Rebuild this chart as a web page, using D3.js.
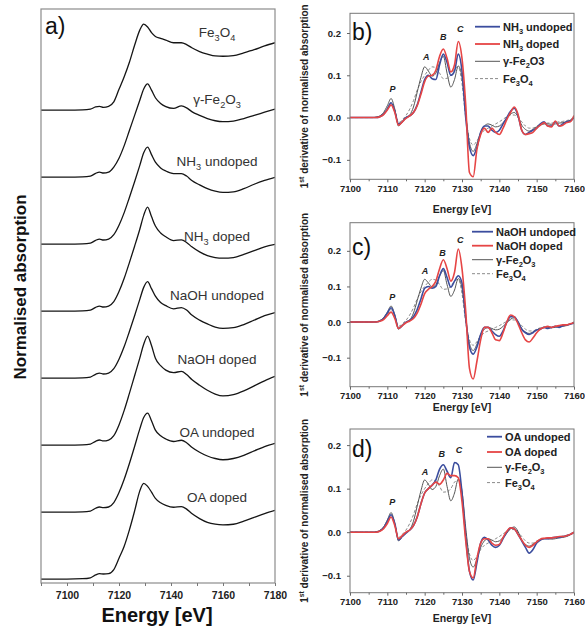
<!DOCTYPE html>
<html><head><meta charset="utf-8">
<script src="https://cdn.jsdelivr.net/npm/d3@7"></script>
<style>body{margin:0;background:#fff} svg{display:block;font-family:"Liberation Sans",Arial,sans-serif}</style>
</head><body><svg id="c" width="585" height="626"></svg>
<script>
// ---------- DATA: panel a (XANES) ----------
const xanesE = [7090,7100,7106,7109,7111,7112.5,7114,7116,7118,7120,7122,7124,7126,7128,7129.5,7131,7132.5,7134,7136,7138,7141,7144,7146,7148,7151,7154,7157,7160,7164,7168,7172,7176,7180];
const xaFe3O4 = [0,0,0.003,0.015,0.05,0.06,0.045,0.06,0.13,0.33,0.53,0.76,1.03,1.27,1.365,1.32,1.23,1.17,1.14,1.11,1.07,1.07,1.04,0.99,0.93,0.89,0.86,0.855,0.865,0.91,0.96,1.02,1.07];
const xaGamma  = [0,0,0.003,0.015,0.06,0.08,0.065,0.08,0.16,0.3,0.5,0.74,0.98,1.22,1.4,1.48,1.38,1.26,1.17,1.12,1.09,1.13,1.1,1.04,0.98,0.93,0.895,0.88,0.89,0.93,0.98,1.03,1.08];
const xaNH3u   = [0,0,0.003,0.015,0.06,0.08,0.065,0.08,0.15,0.3,0.5,0.74,0.99,1.25,1.45,1.54,1.42,1.3,1.21,1.16,1.12,1.12,1.08,1.01,0.94,0.88,0.84,0.82,0.83,0.88,0.95,1.01,1.06];
const xaNH3d   = [0,0,0.003,0.015,0.06,0.08,0.065,0.08,0.15,0.31,0.52,0.77,1.03,1.3,1.52,1.65,1.5,1.35,1.24,1.18,1.12,1.13,1.09,1.02,0.94,0.88,0.85,0.84,0.85,0.9,0.96,1.02,1.06];
const xaNaOHu  = [0,0,0.003,0.015,0.06,0.08,0.065,0.08,0.15,0.3,0.5,0.74,0.99,1.25,1.44,1.53,1.42,1.3,1.2,1.15,1.1,1.12,1.08,1.0,0.92,0.86,0.81,0.79,0.8,0.85,0.92,0.99,1.04];
const xaNaOHd  = [0,0,0.003,0.015,0.06,0.08,0.065,0.08,0.15,0.32,0.55,0.82,1.1,1.38,1.6,1.73,1.58,1.38,1.26,1.19,1.15,1.17,1.12,1.04,0.95,0.87,0.81,0.78,0.8,0.86,0.94,1.02,1.09];
const xaOAu    = [0,0,0.003,0.015,0.06,0.08,0.07,0.08,0.15,0.31,0.52,0.77,1.04,1.32,1.5,1.57,1.45,1.3,1.21,1.16,1.12,1.14,1.1,1.03,0.95,0.89,0.85,0.83,0.85,0.9,0.97,1.04,1.09];
const xaOAd    = [0,0,0.005,0.02,0.065,0.085,0.08,0.085,0.15,0.33,0.52,0.78,1.08,1.4,1.52,1.47,1.38,1.28,1.21,1.17,1.14,1.15,1.11,1.04,0.96,0.9,0.87,0.86,0.87,0.92,0.98,1.04,1.09];
const xanesLabels = [
  [["Fe"],["3",1],["O"],["4",1]],
  [["γ-Fe"],["2",1],["O"],["3",1]],
  [["NH"],["3",1],[" undoped"]],
  [["NH"],["3",1],[" doped"]],
  [["NaOH undoped"]],
  [["NaOH doped"]],
  [["OA undoped"]],
  [["OA doped"]]
];
const xanesSeries = [xaFe3O4, xaGamma, xaNH3u, xaNH3d, xaNaOHu, xaNaOHd, xaOAu, xaOAd];
const xanesTicks = [7090,7100,7110,7120,7130,7140,7150,7160,7170,7180];
const xanesTickLabels = [7100,7120,7140,7160,7180];

// ---------- DATA: derivative panels ----------
const dE = [7100,7101,7102,7103,7104,7105,7106,7107,7108,7109,7110,7111,7112,7113,7114,7115,7116,7117,7118,7119,7120,7121,7122,7123,7124,7125,7126,7127,7128,7129,7130,7131,7132,7133,7134,7135,7136,7137,7138,7139,7140,7141,7142,7143,7144,7145,7146,7147,7148,7149,7150,7151,7152,7153,7154,7155,7156,7157,7158,7159,7160];
const dFe3O4 = [0,0,0,0,0,0,0, 0.001,0.004,0.01,0.022,0.035,0.018,-0.012,-0.005,0.005, 0.02,0.04,0.065,0.085,0.1,0.112,0.12,0.118,0.105,0.092, 0.093,0.1,0.115,0.12,0.08,0.0,-0.05,-0.065,-0.055,-0.04, -0.03,-0.025,-0.02,-0.015,-0.01,-0.004,0.002,0.006,0.006,0.0, -0.01,-0.02,-0.025,-0.025,-0.02,-0.016,-0.014,-0.013,-0.013,-0.012, -0.01,-0.009,-0.007,-0.005,0.0];
const dGamma = [0,0,0,0,0,0,0, 0.001,0.004,0.012,0.028,0.045,0.02,-0.02,-0.01,0.0, 0.006,0.025,0.06,0.095,0.12,0.11,0.098,0.105,0.13,0.145, 0.105,0.072,0.09,0.122,0.095,0.01,-0.06,-0.08,-0.062,-0.035, -0.02,-0.015,-0.018,-0.022,-0.02,-0.012,-0.002,0.008,0.012,0.002, -0.018,-0.028,-0.032,-0.028,-0.022,-0.018,-0.015,-0.015,-0.016,-0.015, -0.013,-0.012,-0.01,-0.006,0.0];
const dNH3u = [0,0,0,0,0,0,0, 0.0,0.002,0.008,0.02,0.035,0.015,-0.015,-0.01,0.0, 0.004,0.012,0.03,0.06,0.09,0.1,0.092,0.09,0.125,0.15, 0.13,0.1,0.11,0.15,0.11,0.0,-0.07,-0.09,-0.07,-0.035, -0.02,-0.02,-0.03,-0.035,-0.03,-0.015,0.0,0.015,0.022,0.005, -0.03,-0.04,-0.035,-0.03,-0.025,-0.015,-0.01,-0.02,-0.02,-0.01, -0.02,-0.015,-0.01,-0.008,0.0];
const dNH3d = [0,0,0,0,0,0,0, 0.0,0.002,0.007,0.018,0.03,0.012,-0.018,-0.01,-0.002, 0.004,0.012,0.028,0.055,0.085,0.098,0.1,0.112,0.145,0.162, 0.14,0.108,0.125,0.18,0.14,0.03,-0.13,-0.14,-0.075,-0.04, -0.025,-0.035,-0.025,-0.035,-0.04,-0.025,-0.005,0.012,0.025,0.008, -0.03,-0.04,-0.038,-0.035,-0.025,-0.018,-0.012,-0.02,-0.022,-0.008, -0.02,-0.018,-0.012,-0.01,0.005];
const dNaOHu = [0,0,0,0,0,0,0, 0.0,0.003,0.01,0.025,0.04,0.018,-0.018,-0.01,0.0, 0.005,0.015,0.035,0.065,0.095,0.1,0.095,0.1,0.13,0.15, 0.125,0.098,0.115,0.13,0.11,0.01,-0.07,-0.09,-0.07,-0.035, -0.015,-0.015,-0.025,-0.035,-0.04,-0.025,0.0,0.015,0.015,0.0, -0.02,-0.03,-0.035,-0.03,-0.022,-0.02,-0.015,-0.018,-0.015,-0.012, -0.015,-0.01,-0.008,-0.006,-0.003];
const dNaOHd = [0,0,0,0,0,0,0, 0.0,0.002,0.007,0.018,0.028,0.01,-0.018,-0.01,-0.002, 0.003,0.01,0.025,0.05,0.08,0.092,0.1,0.115,0.15,0.175, 0.15,0.115,0.14,0.205,0.15,0.03,-0.13,-0.16,-0.11,-0.05, -0.015,-0.015,-0.03,-0.05,-0.052,-0.03,0.0,0.02,0.015,-0.005, -0.03,-0.05,-0.056,-0.045,-0.03,-0.02,-0.015,-0.012,-0.015,-0.012, -0.01,-0.008,-0.008,-0.005,-0.002];
const dOAu = [0,0,0,0,0,0,0, 0.0,0.003,0.01,0.025,0.04,0.02,-0.018,-0.01,-0.002, 0.005,0.015,0.035,0.065,0.09,0.1,0.108,0.12,0.145,0.155, 0.14,0.125,0.16,0.155,0.09,-0.01,-0.09,-0.11,-0.07,-0.025, -0.012,-0.018,-0.03,-0.035,-0.03,-0.015,0.0,0.01,0.008,-0.005, -0.02,-0.035,-0.048,-0.04,-0.025,-0.018,-0.015,-0.015,-0.013,-0.012, -0.012,-0.01,-0.008,-0.005,0.0];
const dOAd = [0,0,0,0,0,0,0, 0.0,0.002,0.008,0.02,0.035,0.015,-0.015,-0.008,0.0, 0.005,0.015,0.035,0.065,0.09,0.1,0.108,0.115,0.11,0.12, 0.135,0.13,0.13,0.125,0.07,-0.02,-0.09,-0.105,-0.06,-0.025, -0.015,-0.015,-0.025,-0.03,-0.028,-0.012,0.002,0.01,0.008,-0.005, -0.018,-0.03,-0.035,-0.03,-0.022,-0.016,-0.014,-0.013,-0.013,-0.012, -0.01,-0.01,-0.008,-0.005,0.0];
const derivXTicks = [7100,7110,7120,7130,7140,7150,7160];
const derivXMinor = [7105,7115,7125,7135,7145,7155];
const derivYTicks = [-0.1,0.0,0.1,0.2];
const peakNames = ["P","A","B","C"];

// ---------- helpers ----------
const svg = d3.select("#c");
function rich(t, segs, fs){
  let pending = 0;
  segs.forEach(s=>{
    const ts = t.append("tspan").text(s[0]);
    let dy = pending;
    if(s[1]===1){ ts.attr("font-size", fs*0.68); dy += fs*0.28; pending = -fs*0.28; }
    else if(s[1]===2){ ts.attr("font-size", fs*0.68); dy += -fs*0.38; pending = fs*0.38; }
    else pending = 0;
    if(dy) ts.attr("dy", dy);
  });
  return t;
}

// ---------- panel a ----------
(function(){
  const L=41,R=275,T=9,B=583;
  const x = d3.scaleLinear().domain([7090,7180]).range([L,R]);
  const y = d3.scaleLinear().domain([-0.063,9.05]).range([B,T]);
  const step = 1.0635;
  const labelLift = [1.16,1.16,1.24,1.11,1.24,1.29,1.19,1.22];
  svg.append("clipPath").attr("id","clipA").append("rect").attr("x",L).attr("y",T).attr("width",R-L).attr("height",B-T);
  const g = svg.append("g").attr("clip-path","url(#clipA)");
  const n = xanesSeries.length;
  xanesSeries.forEach((s,k)=>{
    const off = (n-1-k)*step;
    const line = d3.line().x((d,i)=>x(xanesE[i])).y(d=>y(d+off)).curve(d3.curveMonotoneX);
    g.append("path").attr("d", line(s)).attr("fill","none").attr("stroke","#151515").attr("stroke-width",1.3);
  });
  xanesLabels.forEach((segs,k)=>{
    const off=(n-1-k)*step;
    const t = svg.append("text").attr("x",217).attr("y",y(off+labelLift[k])).attr("text-anchor","middle")
      .attr("font-size",13.5).attr("fill","#333");
    rich(t,segs,13.5);
  });
  svg.append("rect").attr("x",L).attr("y",T).attr("width",R-L).attr("height",B-T).attr("fill","none").attr("stroke","#8c8c8c").attr("stroke-width",1.2);
  const ax = svg.append("g").attr("transform",`translate(0,${B})`)
    .call(d3.axisBottom(x).tickValues(xanesTicks).tickSize(3).tickFormat(d3.format("d")));
  ax.select(".domain").remove();
  ax.selectAll("line").attr("stroke","#777");
  ax.selectAll(".tick").filter(d=>!xanesTickLabels.includes(d)).select("text").remove();
  ax.selectAll("text").attr("font-size",10.5).attr("font-weight","bold").attr("fill","#222").attr("dy","0.95em")
    .attr("font-family","'Liberation Sans',Arial,sans-serif");
  svg.append("text").attr("x",157).attr("y",622).attr("text-anchor","middle").attr("font-size",20).attr("font-weight","bold").attr("fill","#111").text("Energy [eV]");
  svg.append("text").attr("transform","translate(26,287) rotate(-90)").attr("text-anchor","middle").attr("font-size",17).attr("font-weight","bold").attr("fill","#111").text("Normalised absorption");
  svg.append("text").attr("x",45).attr("y",34).attr("font-size",23).attr("fill","#111").text("a)");
})();

// ---------- derivative panels ----------
const BLUE="#3b4d9e", RED="#e64545", GREY="#555", LGREY="#8a8a8a";
function deriv(cfg){
  const L=350,R=574,T=cfg.top,B=cfg.bottom;
  const x = d3.scaleLinear().domain([7100,7160]).range([L,R]);
  const y = d3.scaleLinear().domain(cfg.ydom).range([B,T]);
  const id="clip"+cfg.tag;
  svg.append("clipPath").attr("id",id).append("rect").attr("x",L).attr("y",T).attr("width",R-L).attr("height",B-T);
  const g = svg.append("g").attr("clip-path",`url(#${id})`);
  const line = d3.line().x((d,i)=>x(dE[i])).y(d=>y(d)).curve(d3.curveMonotoneX);
  const series = [
    {v:dFe3O4,c:LGREY,w:1,dash:"3,2"},
    {v:dGamma,c:GREY,w:1},
    {v:cfg.und,c:BLUE,w:1.6},
    {v:cfg.dop,c:RED,w:1.6}
  ];
  series.forEach(s=>{
    g.append("path").attr("d",line(s.v)).attr("fill","none").attr("stroke",s.c).attr("stroke-width",s.w)
      .attr("stroke-dasharray",s.dash||null).attr("stroke-linejoin","round");
  });
  svg.append("rect").attr("x",L).attr("y",T).attr("width",R-L).attr("height",B-T).attr("fill","none").attr("stroke","#777").attr("stroke-width",1);
  // x axis
  const xa = svg.append("g").attr("transform",`translate(0,${B})`)
    .call(d3.axisBottom(x).tickValues(derivXTicks).tickSize(3).tickFormat(d3.format("d")));
  xa.select(".domain").remove();
  xa.selectAll("line").attr("stroke","#666");
  xa.selectAll("text").attr("font-size",9.5).attr("font-weight","bold").attr("fill","#222").attr("dy","0.71em").attr("font-family","'Liberation Sans',Arial,sans-serif");
  const xm = svg.append("g").attr("transform",`translate(0,${B})`)
    .call(d3.axisBottom(x).tickValues(derivXMinor).tickSize(2));
  xm.select(".domain").remove(); xm.selectAll("text").remove(); xm.selectAll("line").attr("stroke","#666");
  // y axis
  const ya = svg.append("g").attr("transform",`translate(${L},0)`)
    .call(d3.axisLeft(y).tickValues(derivYTicks).tickSize(3).tickFormat(d3.format(".1f")));
  ya.select(".domain").remove();
  ya.selectAll("line").attr("stroke","#666");
  ya.selectAll("text").attr("font-size",9.5).attr("font-weight","bold").attr("fill","#222").attr("x",-9).attr("font-family","'Liberation Sans',Arial,sans-serif");
  // labels
  svg.append("text").attr("x",(L+R)/2).attr("y",cfg.xlabY).attr("text-anchor","middle").attr("font-size",10.5).attr("font-weight","bold").attr("fill","#222").text("Energy [eV]");
  const yl = svg.append("text").attr("transform",`translate(308,${(T+B)/2}) rotate(-90)`).attr("text-anchor","middle")
    .attr("font-size",10).attr("font-weight","bold").attr("fill","#222");
  rich(yl,[["1"],["st",2],[" derivative of normalised absorption"]],10);
  svg.append("text").attr("x",352).attr("y",cfg.tagY).attr("font-size",23).attr("fill","#111").text(cfg.tag+")");
  // peak labels
  cfg.peaks.forEach((p,i)=>{
    svg.append("text").attr("x",x(p[0])).attr("y",y(p[1])).attr("dy","0.35em").attr("text-anchor","middle")
      .attr("font-size",9).attr("font-weight","bold").attr("font-style","italic").attr("fill","#222").text(peakNames[i]);
  });
  // legend
  const lg = cfg.legend;
  const items = [
    {segs:cfg.undName,c:BLUE,w:1.8},
    {segs:cfg.dopName,c:RED,w:1.8},
    {segs:cfg.gName,c:GREY,w:1},
    {segs:[["Fe"],["3",1],["O"],["4",1]],c:LGREY,w:1,dash:"3,2"}
  ];
  items.forEach((it,i)=>{
    const yy = lg.y0 + i*lg.dy;
    svg.append("line").attr("x1",lg.x1).attr("x2",lg.x2).attr("y1",yy).attr("y2",yy).attr("stroke",it.c).attr("stroke-width",it.w).attr("stroke-dasharray",it.dash||null);
    const t = svg.append("text").attr("x",lg.x2+3).attr("y",yy+4).attr("font-size",11).attr("font-weight","bold").attr("fill","#222");
    rich(t,it.segs,11);
  });
}

deriv({tag:"b",top:13.3,bottom:179.3,ydom:[-0.146,0.2466],und:dNH3u,dop:dNH3d,xlabY:213,tagY:40,
  peaks:[[7111.4,0.069],[7120.4,0.144],[7125,0.191],[7129.5,0.209]],
  undName:[["NH"],["3",1],[" undoped"]],dopName:[["NH"],["3",1],[" doped"]],gName:[["γ-Fe"],["2",1],["O3"]],
  legend:{x1:475,x2:500,y0:26.7,dy:17.3}});
deriv({tag:"c",top:222.7,bottom:386.7,ydom:[-0.1815,0.279],und:dNaOHu,dop:dNaOHd,xlabY:411,tagY:255,
  peaks:[[7111.3,0.071],[7120.1,0.144],[7124.8,0.193],[7129.5,0.231]],
  undName:[["NaOH undoped"]],dopName:[["NaOH doped"]],gName:[["γ-Fe"],["2",1],["O"],["3",1]],
  legend:{x1:472,x2:493,y0:231.7,dy:14}});
deriv({tag:"d",top:429,bottom:592.7,ydom:[-0.139,0.237],und:dOAu,dop:dOAd,xlabY:622,tagY:457,
  peaks:[[7111.3,0.07],[7120.1,0.139],[7124.6,0.181],[7129.2,0.19]],
  undName:[["OA undoped"]],dopName:[["OA doped"]],gName:[["γ-Fe"],["2",1],["O"],["3",1]],
  legend:{x1:487,x2:502,y0:436.7,dy:15.3}});
</script></body></html>
